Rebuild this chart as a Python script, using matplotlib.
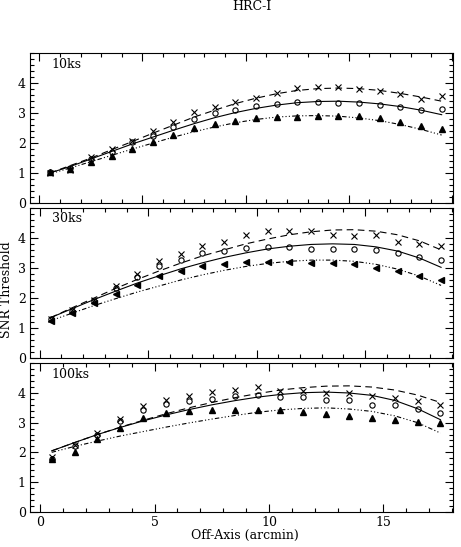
import numpy as np
import matplotlib
matplotlib.use("Agg")
import matplotlib.pyplot as plt
from matplotlib.ticker import MultipleLocator

plt.rcParams['font.family'] = ['DejaVu Serif']

# off-axis bins (arcmin)
x10 = np.arange(0.5, 20, 1.0)
x30 = np.arange(0.5, 19, 1.0)
x100 = np.arange(0.5, 18, 1.0)

# 10ks
cross10 = [1.0, 1.1, 1.53, 1.81, 2.08, 2.39, 2.72, 3.03, 3.19, 3.38,
           3.51, 3.69, 3.83, 3.86, 3.86, 3.80, 3.75, 3.64, 3.47, 3.56]
circ10 = [1.03, 1.16, 1.47, 1.72, 2.03, 2.25, 2.55, 2.80, 2.99, 3.12,
          3.24, 3.31, 3.36, 3.36, 3.34, 3.34, 3.28, 3.19, 3.12, 3.13]
tri10 = [1.05, 1.14, 1.36, 1.58, 1.81, 2.05, 2.27, 2.49, 2.64, 2.75,
         2.84, 2.86, 2.88, 2.90, 2.92, 2.89, 2.83, 2.72, 2.58, 2.48]
fit_dash10 = [1.0, 1.25, 1.5, 1.78, 2.05, 2.33, 2.6, 2.87, 3.1, 3.32,
              3.5, 3.65, 3.76, 3.82, 3.84, 3.82, 3.76, 3.66, 3.54, 3.4]
fit_solid10 = [1.0, 1.22, 1.47, 1.72, 1.97, 2.2, 2.43, 2.65, 2.85, 3.02,
               3.16, 3.27, 3.35, 3.39, 3.40, 3.37, 3.31, 3.22, 3.1, 2.95]
fit_dot10 = [0.97, 1.17, 1.38, 1.59, 1.8, 2.0, 2.2, 2.38, 2.54, 2.68,
             2.79, 2.87, 2.91, 2.92, 2.9, 2.84, 2.75, 2.62, 2.46, 2.27]

# 30ks
cross30 = [1.3, 1.61, 1.94, 2.41, 2.81, 3.22, 3.47, 3.72, 3.87, 4.09,
           4.24, 4.22, 4.24, 4.11, 4.05, 4.11, 3.85, 3.81, 3.72]
circ30 = [1.3, 1.56, 1.91, 2.33, 2.7, 3.05, 3.28, 3.5, 3.55, 3.66,
          3.69, 3.69, 3.63, 3.63, 3.63, 3.61, 3.5, 3.36, 3.25]
tri30 = [1.25, 1.5, 1.83, 2.14, 2.44, 2.74, 2.89, 3.06, 3.13, 3.2,
         3.2, 3.2, 3.15, 3.15, 3.13, 3.0, 2.89, 2.72, 2.59]
fit_dash30 = [1.35, 1.68, 2.0, 2.32, 2.62, 2.9, 3.16, 3.4, 3.6, 3.8,
              3.96, 4.1, 4.2, 4.26, 4.27, 4.22, 4.1, 3.9, 3.6]
fit_solid30 = [1.35, 1.65, 1.95, 2.23, 2.5, 2.74, 2.97, 3.17, 3.35, 3.5,
               3.63, 3.72, 3.78, 3.8, 3.78, 3.7, 3.56, 3.33, 3.02]
fit_dot30 = [1.25, 1.5, 1.75, 1.98, 2.2, 2.4, 2.6, 2.77, 2.92, 3.05,
             3.15, 3.22, 3.26, 3.26, 3.22, 3.12, 2.96, 2.73, 2.42]

# 100ks
cross100 = [1.83, 2.24, 2.64, 3.11, 3.56, 3.78, 3.89, 4.02, 4.11, 4.19,
            4.08, 4.08, 4.0, 4.0, 3.89, 3.83, 3.72, 3.61]
circ100 = [1.78, 2.2, 2.59, 3.06, 3.42, 3.63, 3.74, 3.8, 3.89, 3.94,
           3.87, 3.87, 3.78, 3.78, 3.61, 3.58, 3.47, 3.33]
tri100 = [1.76, 2.02, 2.44, 2.83, 3.17, 3.31, 3.39, 3.42, 3.44, 3.44,
          3.42, 3.36, 3.3, 3.22, 3.17, 3.09, 3.02, 3.0]
fit_dash100 = [2.05, 2.33, 2.6, 2.85, 3.08, 3.3, 3.5, 3.68, 3.84, 3.98,
               4.1, 4.18, 4.23, 4.24, 4.2, 4.1, 3.93, 3.68]
fit_solid100 = [2.05, 2.33, 2.6, 2.84, 3.06, 3.26, 3.44, 3.6, 3.74, 3.86,
                3.95, 4.01, 4.03, 4.0, 3.92, 3.75, 3.47, 3.1]
fit_dot100 = [2.0, 2.2, 2.38, 2.55, 2.7, 2.85, 2.99, 3.12, 3.24, 3.35,
              3.43, 3.48, 3.5, 3.46, 3.38, 3.23, 3.0, 2.65]

panels = [
    ("10ks", x10, cross10, circ10, tri10, fit_dash10, fit_solid10, fit_dot10, '^'),
    ("30ks", x30, cross30, circ30, tri30, fit_dash30, fit_solid30, fit_dot30, '<'),
    ("100ks", x100, cross100, circ100, tri100, fit_dash100, fit_solid100, fit_dot100, '^'),
]

W, H = 461, 547
fig = plt.figure(figsize=(W / 100, H / 100), dpi=100)

left, right = 30 / W, 453 / W
boxes = [(53.3, 203.0), (207.7, 358.3), (363.3, 511.7)]
fs = 9

for i, (lab, x, cr, ci, tr, fd, fsld, fdot, tmk) in enumerate(panels):
    top, bot = boxes[i]
    ax = fig.add_axes([left, 1 - bot / H, right - left, (bot - top) / H])
    ax.plot(x, fd, color='black', lw=0.8, ls=(0, (6, 4)))
    ax.plot(x, fsld, color='black', lw=0.8, ls='-')
    ax.plot(x, fdot, color='black', lw=0.8, ls=(0, (4, 2, 1, 2, 1, 2, 1, 2)))
    ax.plot(x, cr, ls='none', marker='x', ms=4.0, mew=0.8, color='black')
    ax.plot(x, ci, ls='none', marker='o', ms=3.8, mew=0.8, mfc='none', mec='black')
    ax.plot(x, tr, ls='none', marker=tmk, ms=4.6, color='black')

    ax.set_xlim(-0.45, len(x) + 0.05)
    ax.set_ylim(0, 5.0)
    ax.xaxis.set_major_locator(MultipleLocator(5))
    ax.xaxis.set_minor_locator(MultipleLocator(1))
    ax.yaxis.set_major_locator(MultipleLocator(1))
    ax.yaxis.set_minor_locator(MultipleLocator(0.2))
    ax.tick_params(which='both', direction='in', top=True, right=True,
                   width=0.8, labelsize=fs, pad=3)
    ax.tick_params(which='major', length=6)
    ax.tick_params(which='minor', length=3)
    ax.set_yticks([0, 1, 2, 3, 4])
    for s in ax.spines.values():
        s.set_linewidth(0.8)
    if i < 2:
        ax.tick_params(labelbottom=False)
    else:
        ax.set_xticks([0, 5, 10, 15])
    ax.text(0.051, 0.925, lab, transform=ax.transAxes, fontsize=fs,
            ha='left', va='center')

fig.text(251.7 / W, 1 - 6 / H, "HRC-I", ha='center', va='center', fontsize=fs)
fig.text(245 / W, 1 - 535 / H, "Off-Axis (arcmin)", ha='center', va='center', fontsize=fs)
fig.text(7 / W, 1 - 290 / H, "SNR Threshold", ha='center', va='center',
         rotation=90, fontsize=fs)

fig.savefig("out.png", dpi=100)
